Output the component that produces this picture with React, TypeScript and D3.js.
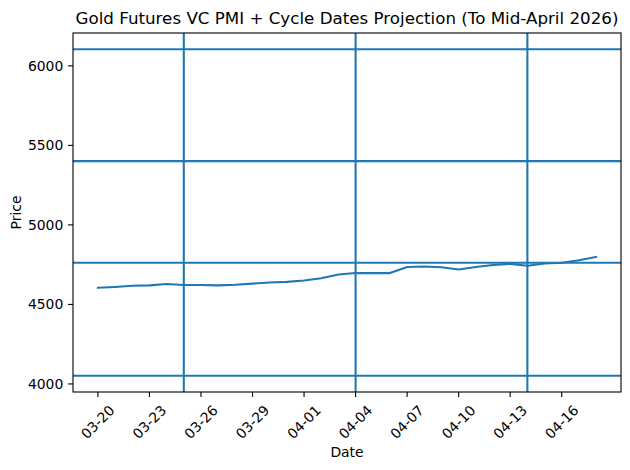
import React from "react";
import * as d3 from "d3";

const dates = [
  "2026-03-20", "2026-03-21", "2026-03-22", "2026-03-23", "2026-03-24", "2026-03-25",
  "2026-03-26", "2026-03-27", "2026-03-28", "2026-03-29", "2026-03-30", "2026-03-31",
  "2026-04-01", "2026-04-02", "2026-04-03", "2026-04-04", "2026-04-05", "2026-04-06",
  "2026-04-07", "2026-04-08", "2026-04-09", "2026-04-10", "2026-04-11", "2026-04-12",
  "2026-04-13", "2026-04-14", "2026-04-15", "2026-04-16", "2026-04-17", "2026-04-18",
];
const prices = [
  4605, 4610, 4617, 4620, 4628, 4622,
  4622, 4620, 4624, 4631, 4638, 4642,
  4650, 4665, 4688, 4698, 4697, 4697,
  4735, 4738, 4734, 4720, 4735, 4748,
  4755, 4743, 4757, 4762, 4778, 4798,
];
const levels = [4052, 4762, 5401, 6104];
const cycleDates = ["2026-03-25", "2026-04-04", "2026-04-14"];
const xTickDates = [
  "2026-03-20", "2026-03-23", "2026-03-26", "2026-03-29", "2026-04-01",
  "2026-04-04", "2026-04-07", "2026-04-10", "2026-04-13", "2026-04-16",
];
const yTicks = [4000, 4500, 5000, 5500, 6000];

const W = 630, H = 470;
const L = 73, R = 621, T = 33, B = 392;
const C = "#1f77b4";
const FONT = "DejaVu Sans, sans-serif";

export default function App() {
  const parse = (s: string) => new Date(s + "T00:00:00Z");
  const ds = dates.map(parse);
  const x0 = +ds[0], x1 = +ds[ds.length - 1];
  const xm = (x1 - x0) * 0.05;
  const x = d3.scaleUtc().domain([new Date(x0 - xm), new Date(x1 + xm)]).range([L, R]);
  const allY = [...prices, ...levels];
  const y0 = d3.min(allY)!, y1 = d3.max(allY)!;
  const ym = (y1 - y0) * 0.05;
  const y = d3.scaleLinear().domain([y0 - ym, y1 + ym]).range([B, T]);
  const fmt = d3.utcFormat("%m-%d");
  const line = d3.line<number>().x((_, i) => x(ds[i])).y((v) => y(v));

  return (
    <svg width={W} height={H} style={{ position: "absolute", left: 0, top: 0, background: "#fff" }} fontFamily={FONT}>
      <rect x={0} y={0} width={W} height={H} fill="#fff" />
      <defs>
        <clipPath id="clip">
          <rect x={L} y={T} width={R - L} height={B - T} />
        </clipPath>
      </defs>
      <g clipPath="url(#clip)">
        <path d={line(prices)!} fill="none" stroke={C} strokeWidth={2.08} strokeLinejoin="round" strokeLinecap="square" />
        {levels.map((v, i) => (
          <line key={"h" + i} x1={L} x2={R} y1={y(v)} y2={y(v)} stroke={C} strokeWidth={2.08} />
        ))}
        {cycleDates.map((s, i) => (
          <line key={"v" + i} x1={x(parse(s))} x2={x(parse(s))} y1={T} y2={B} stroke={C} strokeWidth={2.08} />
        ))}
      </g>
      <rect x={L} y={T} width={R - L} height={B - T} fill="none" stroke="#000" strokeWidth={1.1} />
      {yTicks.map((t) => (
        <g key={"yt" + t}>
          <line x1={L - 4.9} x2={L} y1={y(t)} y2={y(t)} stroke="#000" strokeWidth={1.1} />
          <text x={L - 9.7} y={y(t)} dy="0.35em" textAnchor="end" fontSize={13.9} fill="#000">{t}</text>
        </g>
      ))}
      {xTickDates.map((s) => {
        const px = x(parse(s));
        return (
          <g key={"xt" + s}>
            <line x1={px} x2={px} y1={B} y2={B + 4.9} stroke="#000" strokeWidth={1.1} />
            <text transform={`translate(${px},${B + 30}) rotate(-45)`} textAnchor="middle" dy="0.35em" fontSize={13.9} fill="#000">{fmt(parse(s))}</text>
          </g>
        );
      })}
      <text x={(L + R) / 2} y={T - 9} textAnchor="middle" fontSize={16.7} fill="#000">Gold Futures VC PMI + Cycle Dates Projection (To Mid-April 2026)</text>
      <text x={(L + R) / 2} y={457} textAnchor="middle" fontSize={13.9} fill="#000">Date</text>
      <text transform={`translate(21,${(T + B) / 2}) rotate(-90)`} textAnchor="middle" fontSize={13.9} fill="#000">Price</text>
    </svg>
  );
}
